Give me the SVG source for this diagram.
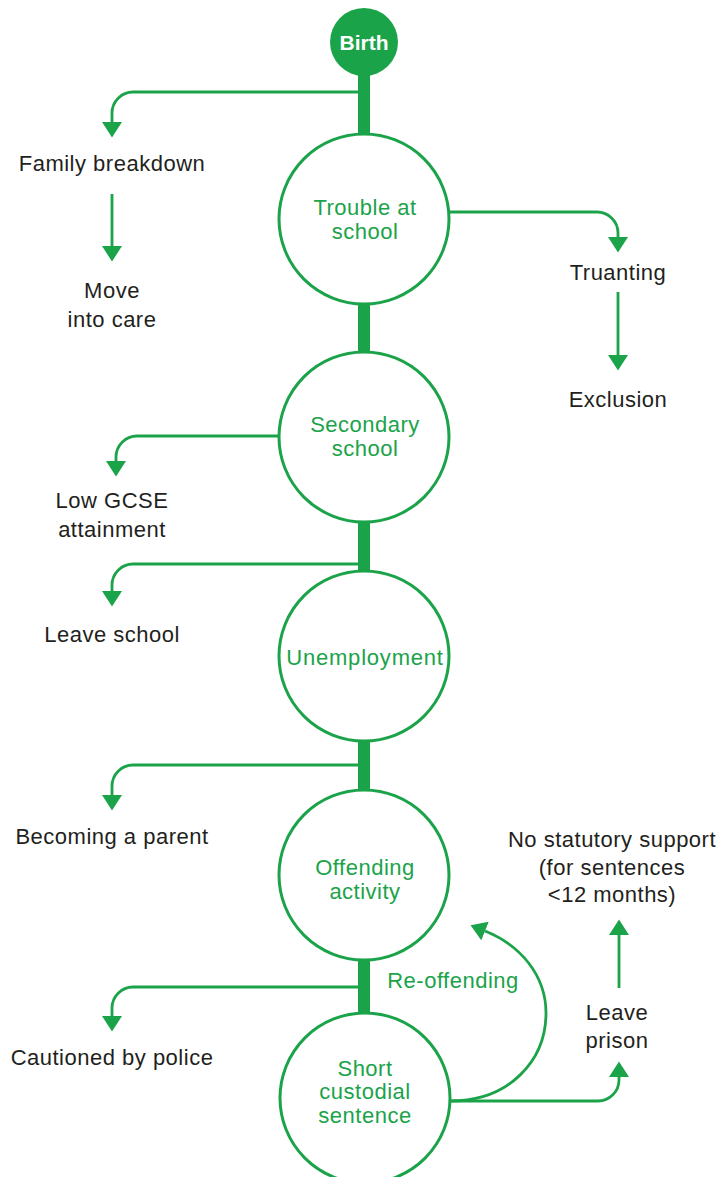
<svg xmlns="http://www.w3.org/2000/svg" width="722" height="1177" viewBox="0 0 722 1177">
<style>
.t{font-family:"Liberation Sans",Arial,sans-serif;font-size:22px;letter-spacing:0.5px;fill:#231f20;text-anchor:middle}
.g{fill:#1ba34a}
.c{fill:#fff;stroke:#1ba34a;stroke-width:3}
.l{fill:none;stroke:#1ba34a;stroke-width:2.8}
</style>
<defs>
<marker id="ah" markerUnits="userSpaceOnUse" markerWidth="16" markerHeight="20" refX="0" refY="9" orient="auto" viewBox="0 0 14 18">
<path d="M0,0 L14,9 L0,18 z" fill="#1ba34a"/>
</marker>
</defs>
<g id="connectors">
<rect x="358" y="60" width="12" height="960" fill="#1ba34a"/>
<path class="l" d="M364 92 H133 A21 21 0 0 0 112 113 V122" marker-end="url(#ah)"/>
<path class="l" d="M112 194 V246" marker-end="url(#ah)"/>
<path class="l" d="M450 212 H597 A21 21 0 0 1 618 233 V237" marker-end="url(#ah)"/>
<path class="l" d="M618 292 V355" marker-end="url(#ah)"/>
<path class="l" d="M280 436 H137 A21 21 0 0 0 116 457 V461" marker-end="url(#ah)"/>
<path class="l" d="M364 564 H133 A21 21 0 0 0 112 585 V591" marker-end="url(#ah)"/>
<path class="l" d="M364 765 H133 A21 21 0 0 0 112 786 V795" marker-end="url(#ah)"/>
<path class="l" d="M364 987 H133 A21 21 0 0 0 112 1008 V1016" marker-end="url(#ah)"/>
<path class="l" d="M450 1101 C510 1101 546 1060 546 1013 C546 975 520 945 485 931" marker-end="url(#ah)"/>
<path class="l" d="M450 1101 H598 A21 21 0 0 0 619 1080 V1077" marker-end="url(#ah)"/>
<path class="l" d="M619 988 V935" marker-end="url(#ah)"/>
</g>
<g id="birth">
<circle cx="364" cy="42" r="34" fill="#1ba34a"/>
<text x="364" y="50" style="font-family:'Liberation Sans',Arial,sans-serif;font-size:21px;font-weight:bold;fill:#fff;text-anchor:middle">Birth</text>
</g>
<g id="trouble">
<circle class="c" cx="364" cy="219" r="85"/>
<text class="t g" x="365" y="215">Trouble at</text>
<text class="t g" x="365" y="239">school</text>
</g>
<g id="secondary">
<circle class="c" cx="364" cy="437" r="85"/>
<text class="t g" x="365" y="432">Secondary</text>
<text class="t g" x="365" y="456">school</text>
</g>
<g id="unemployment">
<circle class="c" cx="364" cy="656" r="85"/>
<text class="t g" x="365" y="665" style="letter-spacing:0.8px">Unemployment</text>
</g>
<g id="offending">
<circle class="c" cx="364" cy="875" r="85"/>
<text class="t g" x="365" y="875">Offending</text>
<text class="t g" x="365" y="899">activity</text>
</g>
<g id="custodial">
<circle class="c" cx="365" cy="1098" r="85"/>
<text class="t g" x="365" y="1076">Short</text>
<text class="t g" x="365" y="1099">custodial</text>
<text class="t g" x="365" y="1123">sentence</text>
</g>
<g id="family"><text class="t" x="112" y="171">Family breakdown</text></g>
<g id="care"><text class="t" x="112" y="298">Move</text><text class="t" x="112" y="327">into care</text></g>
<g id="truanting"><text class="t" x="618" y="280">Truanting</text></g>
<g id="exclusion"><text class="t" x="618" y="407">Exclusion</text></g>
<g id="gcse"><text class="t" x="112" y="508">Low GCSE</text><text class="t" x="112" y="537">attainment</text></g>
<g id="leaveschool"><text class="t" x="112" y="642">Leave school</text></g>
<g id="parent"><text class="t" x="112" y="844">Becoming a parent</text></g>
<g id="nosupport"><text class="t" x="612" y="847">No statutory support</text><text class="t" x="612" y="875">(for sentences</text><text class="t" x="612" y="902">&lt;12 months)</text></g>
<g id="reoffending"><text class="t g" x="453" y="988">Re-offending</text></g>
<g id="leaveprison"><text class="t" x="617" y="1020">Leave</text><text class="t" x="617" y="1048">prison</text></g>
<g id="cautioned"><text class="t" x="112" y="1065">Cautioned by police</text></g>
</svg>
